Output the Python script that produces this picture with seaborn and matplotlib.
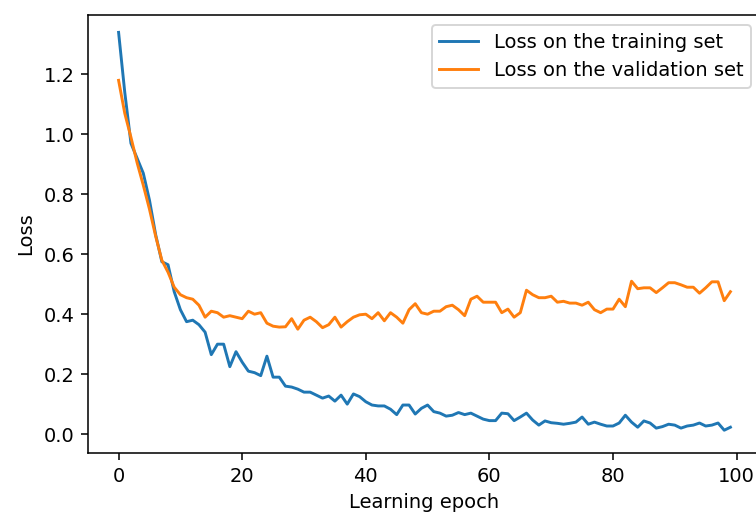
import numpy as np
import pandas as pd
import matplotlib
matplotlib.use("Agg")
import matplotlib.pyplot as plt
import seaborn as sns

# loss per epoch
train_loss = [1.34, 1.14, 0.97, 0.92, 0.87, 0.78, 0.665, 0.575, 0.565, 0.475,
              0.415, 0.375, 0.38, 0.365, 0.34, 0.265, 0.30, 0.30, 0.225, 0.275,
              0.24, 0.21, 0.205, 0.195, 0.26, 0.19, 0.19, 0.16, 0.157, 0.15,
              0.14, 0.14, 0.13, 0.12, 0.127, 0.11, 0.13, 0.10, 0.134, 0.125,
              0.108, 0.097, 0.094, 0.094, 0.083, 0.065, 0.097, 0.097, 0.067, 0.086,
              0.097, 0.075, 0.07, 0.06, 0.063, 0.072, 0.065, 0.07, 0.06, 0.05,
              0.045, 0.045, 0.07, 0.068, 0.045, 0.057, 0.07, 0.047, 0.03, 0.044,
              0.038, 0.036, 0.033, 0.036, 0.04, 0.057, 0.033, 0.04, 0.033, 0.027,
              0.027, 0.037, 0.063, 0.04, 0.023, 0.044, 0.037, 0.02, 0.025, 0.033,
              0.03, 0.02, 0.027, 0.03, 0.037, 0.027, 0.03, 0.037, 0.013, 0.023]
val_loss = [1.18, 1.07, 0.99, 0.905, 0.83, 0.75, 0.66, 0.58, 0.54, 0.49,
            0.465, 0.455, 0.45, 0.43, 0.39, 0.41, 0.405, 0.39, 0.395, 0.39,
            0.385, 0.41, 0.40, 0.405, 0.37, 0.36, 0.357, 0.358, 0.385, 0.35,
            0.38, 0.39, 0.375, 0.355, 0.365, 0.39, 0.357, 0.375, 0.39, 0.398,
            0.40, 0.385, 0.405, 0.378, 0.405, 0.39, 0.37, 0.415, 0.435, 0.405,
            0.40, 0.41, 0.41, 0.425, 0.43, 0.415, 0.395, 0.45, 0.46, 0.44,
            0.44, 0.44, 0.405, 0.417, 0.39, 0.405, 0.48, 0.465, 0.455, 0.455,
            0.46, 0.44, 0.443, 0.437, 0.437, 0.43, 0.44, 0.415, 0.405, 0.417,
            0.417, 0.45, 0.425, 0.51, 0.485, 0.488, 0.488, 0.472, 0.488, 0.505,
            0.505, 0.498, 0.49, 0.49, 0.47, 0.488, 0.508, 0.508, 0.445, 0.475]
epochs = list(range(len(train_loss)))

df = pd.DataFrame({"epoch": epochs, "train": train_loss, "val": val_loss})

fig, ax = plt.subplots(figsize=(756 / 140, 516 / 140), dpi=140)
# the reference is cut off just inside the right spine
fig.subplots_adjust(left=88 / 756, right=761 / 756, bottom=63 / 516, top=501 / 516)

sns.lineplot(data=df, x="epoch", y="train", ax=ax, color="#1f77b4",
             label="Loss on the training set")
sns.lineplot(data=df, x="epoch", y="val", ax=ax, color="#ff7f0e",
             label="Loss on the validation set")

ax.set_ylim(-0.063, 1.398)
ax.set_xlabel("Learning epoch")
ax.set_ylabel("Loss")
ax.legend(loc="upper right")

fig.savefig("out.png", dpi=140)
plt.close(fig)
